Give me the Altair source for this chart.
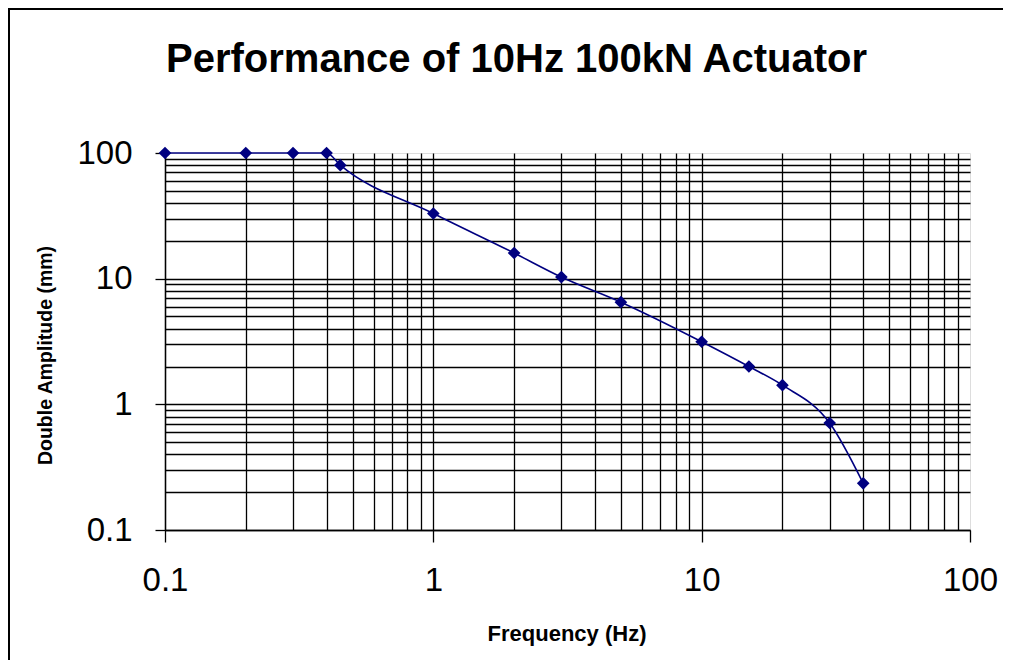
import altair as alt
import pandas as pd

# ---- data ----
FREQ_HZ = [0.1, 0.2, 0.3, 0.4, 0.45, 1, 2, 3, 5, 10, 15, 20, 30, 40]
AMPLITUDE_MM = [100, 100, 100, 100, 80, 33, 16, 10.3, 6.5, 3.15, 2.0, 1.42, 0.71, 0.235]

MAJOR_TICKS = [0.1, 1, 10, 100]
GRID_VALUES = [0.1, 0.2, 0.3, 0.4, 0.5, 0.6, 0.7, 0.8, 0.9,
               1, 2, 3, 4, 5, 6, 7, 8, 9,
               10, 20, 30, 40, 50, 60, 70, 80, 90]

TITLE = "Performance of 10Hz 100kN Actuator"
X_TITLE = "Frequency (Hz)"
Y_TITLE = "Double Amplitude (mm)"

df = pd.DataFrame({"freq": FREQ_HZ, "amp": AMPLITUDE_MM})
frame_df = pd.DataFrame({"k": [0]})

FONT = "Liberation Sans"
NAVY = "#000080"
W, H = 805, 377

xscale = alt.Scale(type="log", domain=[0.1, 100], nice=False)
yscale = alt.Scale(type="log", domain=[0.1, 100], nice=False)

grid_x = alt.Axis(orient="bottom", values=GRID_VALUES, grid=True, gridColor="black",
                  gridWidth=1.3, gridOpacity=1, labels=False, ticks=False,
                  domain=False, title="")
grid_y = alt.Axis(orient="left", values=GRID_VALUES, grid=True, gridColor="black",
                  gridWidth=1.3, gridOpacity=1, labels=False, ticks=False,
                  domain=False, title="")

main_x = alt.Axis(orient="bottom", values=MAJOR_TICKS, format="~g", grid=False,
                  labelFont=FONT, labelFontSize=33, labelColor="black",
                  labelPadding=22, labelFlush=False, labelOverlap=False,
                  tickSize=12, tickColor="black", tickWidth=1.3,
                  domainColor="black", domainWidth=1.3,
                  title=X_TITLE, titleFont=FONT, titleFontSize=22,
                  titleFontWeight="bold", titleColor="black",
                  titleBaseline="alphabetic", titleX=W / 2 - 1, titleY=110)
main_y = alt.Axis(orient="left", values=MAJOR_TICKS, format="~g", grid=False,
                  labelFont=FONT, labelFontSize=33, labelColor="black",
                  labelPadding=23, labelOverlap=False,
                  tickSize=10, tickColor="black", tickWidth=1.3,
                  domainColor="black", domainWidth=1.3,
                  title=Y_TITLE, titleFont=FONT, titleFontSize=19.5,
                  titleFontWeight="bold", titleColor="black", titleAngle=270,
                  titleBaseline="alphabetic", titleX=-114, titleY=202)

frame = alt.Chart(frame_df).mark_rect(fillOpacity=0, stroke="black", strokeWidth=2).encode(
    x=alt.value(-156), x2=alt.value(1100), y=alt.value(-144), y2=alt.value(900)
)

line = alt.Chart(df).mark_line(color=NAVY, strokeWidth=1.6, interpolate="monotone").encode(
    x=alt.X("freq:Q", scale=xscale, axis=grid_x),
    y=alt.Y("amp:Q", scale=yscale, axis=grid_y),
)

points = alt.Chart(df).mark_point(shape="diamond", filled=True, color=NAVY,
                                  size=160, opacity=1).encode(
    x=alt.X("freq:Q", scale=xscale, axis=main_x),
    y=alt.Y("amp:Q", scale=yscale, axis=main_y),
)

chart = alt.layer(frame, line, points).resolve_axis(
    x="independent", y="independent"
).properties(
    width=W, height=H,
    title=alt.TitleParams(TITLE, font=FONT, fontSize=40, fontWeight="bold",
                          color="black", anchor="middle", frame="group",
                          dx=-51, dy=104, baseline="alphabetic", offset=0),
    autosize=alt.AutoSizeParams(type="none"),
    padding={"left": 157, "top": 145, "right": 33, "bottom": 130},
).configure_view(stroke="transparent", strokeWidth=0).configure(background="white")

chart.save("out.html", embed_options={"renderer": "svg", "actions": False})
